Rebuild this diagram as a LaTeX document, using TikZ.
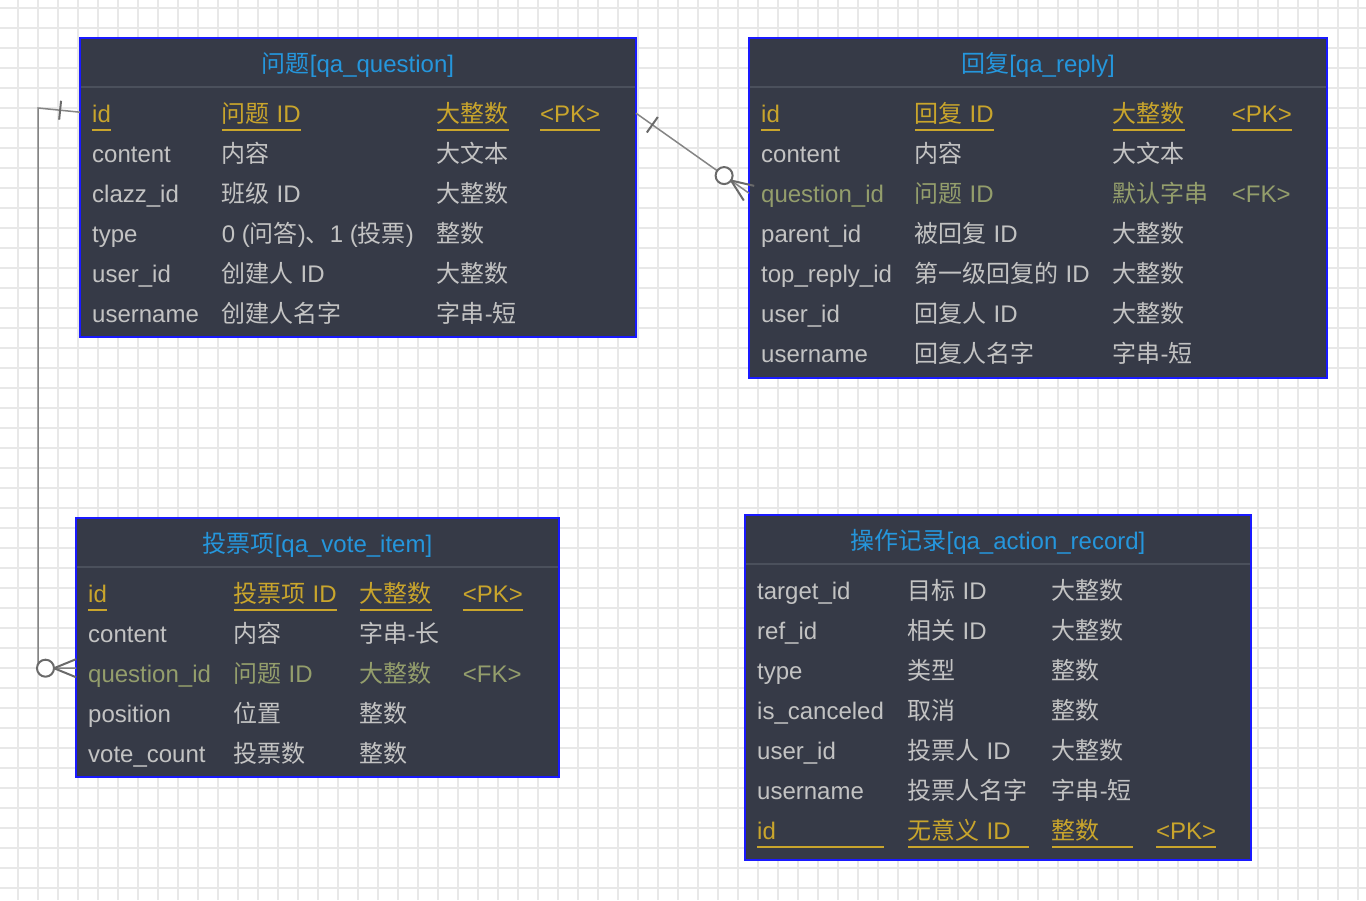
\documentclass[tikz,border=0pt]{standalone}
\usepackage{fontspec}
\setmainfont{Liberation Sans}
\newfontfamily\zh{Noto Sans CJK SC}
\usepackage{xcolor}
\usepackage{tikz}
\usetikzlibrary{calc}
\usetikzlibrary{matrix}
\usetikzlibrary{positioning}
\definecolor{gridgray}{HTML}{E8E8E8}
\definecolor{tblfill}{HTML}{363A47}
\definecolor{tbledge}{HTML}{1A1AFF}
\definecolor{tblrule}{HTML}{4B505C}
\definecolor{headblue}{HTML}{2596DC}
\definecolor{plaingray}{HTML}{C3C3C3}
\definecolor{pkgold}{HTML}{C9A52C}
\definecolor{fkgreen}{HTML}{949E6C}
\definecolor{linkgray}{HTML}{858585}
\definecolor{markgray}{HTML}{6A6A6A}
\makeatletter
\newcommand\ul[2][]{\setbox\z@\hbox{#2}%
  \ifx\relax#1\relax\dimen@\wd\z@\else\dimen@#1\fi%
  \rlap{\rule[-8.5pt]{\dimen@}{2pt}}\box\z@}
\makeatother
\tikzstyle{grid line}=[gridgray,line width=2pt]
\tikzstyle{tbl}=[draw=tbledge,fill=tblfill,line width=2pt,anchor=north west,inner sep=0pt,outer sep=0pt]
\tikzstyle{tbltitle}=[text=headblue,anchor=base]
\tikzstyle{tblsep}=[tblrule,line width=2pt,shorten <=1pt,shorten >=1pt]
\tikzstyle{fields}=[matrix of nodes,anchor=north west,inner sep=0pt,column sep=23pt,row sep=0pt,
  nodes={anchor=base west,inner sep=0pt,text height=28pt,text depth=12pt,text=plaingray}]
\tikzstyle{pk}=[nodes={text=pkgold}]
\tikzstyle{fk}=[nodes={text=fkgreen}]
\tikzstyle{link}=[linkgray,line width=1.5pt]
\tikzstyle{linkmark}=[markgray,line width=2pt]
\newcommand\onebar[2]{\draw[linkmark] ($($(#1)!20pt!(#2)$)!9.5pt!90:(#2)$) -- ($($(#1)!20pt!(#2)$)!9.5pt!-90:(#2)$);}
\newcommand\zeromany[2]{%
  \draw[linkmark] ($(#1)!9pt!90:(#2)$) -- ($(#1)!22pt!(#2)$) -- ($(#1)!9pt!-90:(#2)$);
  \draw[linkmark,fill=white] ($(#1)!30.5pt!(#2)$) circle[radius=8.5pt];}
\begin{document}
\begin{tikzpicture}[x=1pt,y=-1pt,every node/.style={font=\fontsize{24pt}{28pt}\selectfont}]
  \fill[white] (0,0) rectangle (1366,900);
  \useasboundingbox (0,0) rectangle (1366,900);
  \foreach \i in {0,...,67} \draw[grid line] (17.7+20*\i,0) -- ++(0,900);
  \foreach \i in {0,...,44} \draw[grid line] (0,7.7+20*\i) -- ++(1366,0);

  \node[tbl,minimum width=556pt,minimum height=299pt] (q) at (80,38) {};
  \node[tbltitle] (q-title) at ([yshift=-34pt]q.north) {{\zh 问题}[qa\_question]};
  \draw[tblsep] ([yshift=-49pt]q.north west) -- ([yshift=-49pt]q.north east);
  \matrix[fields,ampersand replacement=\&,row 1/.style=pk] (qm) at ([xshift=12pt,yshift=-56pt]q.north west) {
    \ul{id} \& \ul{{\zh 问题} ID} \& \ul{\zh 大整数} \& \ul{<PK>} \\
    content \& {\zh 内容} \& {\zh 大文本} \& \\
    clazz\_id \& {\zh 班级} ID \& {\zh 大整数} \& \\
    type \& 0 ({\zh 问答}){\zh 、}1 ({\zh 投票}) \& {\zh 整数} \& \\
    user\_id \& {\zh 创建人} ID \& {\zh 大整数} \& \\
    username \& {\zh 创建人名字} \& {\zh 字串}-{\zh 短} \& \\
  };

  \node[tbl,minimum width=578pt,minimum height=340pt] (r) at (749,38) {};
  \node[tbltitle] (r-title) at ([yshift=-34pt]r.north) {{\zh 回复}[qa\_reply]};
  \draw[tblsep] ([yshift=-49pt]r.north west) -- ([yshift=-49pt]r.north east);
  \matrix[fields,ampersand replacement=\&,row 1/.style=pk,row 3/.style=fk] (rm) at ([xshift=12pt,yshift=-56pt]r.north west) {
    \ul{id} \& \ul{{\zh 回复} ID} \& \ul{\zh 大整数} \& \ul{<PK>} \\
    content \& {\zh 内容} \& {\zh 大文本} \& \\
    question\_id \& {\zh 问题} ID \& {\zh 默认字串} \& <FK> \\
    parent\_id \& {\zh 被回复} ID \& {\zh 大整数} \& \\
    top\_reply\_id \& {\zh 第一级回复的} ID \& {\zh 大整数} \& \\
    user\_id \& {\zh 回复人} ID \& {\zh 大整数} \& \\
    username \& {\zh 回复人名字} \& {\zh 字串}-{\zh 短} \& \\
  };

  \node[tbl,minimum width=483pt,minimum height=259pt] (v) at (76,518) {};
  \node[tbltitle] (v-title) at ([yshift=-34pt]v.north) {{\zh 投票项}[qa\_vote\_item]};
  \draw[tblsep] ([yshift=-49pt]v.north west) -- ([yshift=-49pt]v.north east);
  \matrix[fields,ampersand replacement=\&,row 1/.style=pk,row 3/.style=fk] (vm) at ([xshift=12pt,yshift=-56pt]v.north west) {
    \ul{id} \& \ul{{\zh 投票项} ID} \& \ul{\zh 大整数} \& \ul{<PK>} \\
    content \& {\zh 内容} \& {\zh 字串}-{\zh 长} \& \\
    question\_id \& {\zh 问题} ID \& {\zh 大整数} \& <FK> \\
    position \& {\zh 位置} \& {\zh 整数} \& \\
    vote\_count \& {\zh 投票数} \& {\zh 整数} \& \\
  };

  \node[tbl,minimum width=506pt,minimum height=345pt] (a) at (745,515) {};
  \node[tbltitle] (a-title) at ([yshift=-34pt]a.north) {{\zh 操作记录}[qa\_action\_record]};
  \draw[tblsep] ([yshift=-49pt]a.north west) -- ([yshift=-49pt]a.north east);
  \matrix[fields,column sep=24pt,ampersand replacement=\&,row 7/.style=pk] (am) at ([xshift=12pt,yshift=-56pt]a.north west) {
    target\_id \& {\zh 目标} ID \& {\zh 大整数} \& \\
    ref\_id \& {\zh 相关} ID \& {\zh 大整数} \& \\
    type \& {\zh 类型} \& {\zh 整数} \& \\
    is\_canceled \& {\zh 取消} \& {\zh 整数} \& \\
    user\_id \& {\zh 投票人} ID \& {\zh 大整数} \& \\
    username \& {\zh 投票人名字} \& {\zh 字串}-{\zh 短} \& \\
    \ul[127pt]{id} \& \ul[121pt]{{\zh 无意义} ID} \& \ul[81pt]{\zh 整数} \& \ul{<PK>} \\
  };

  \coordinate (q-r) at ([yshift=1pt]q.east |- qm-1-1.center);
  \coordinate (r-q) at ([yshift=1pt]r.west |- rm-3-1.center);
  \draw[link] (q-r) -- (r-q);
  \onebar{q-r}{r-q}
  \zeromany{r-q}{q-r}

  \coordinate (q-v) at ([yshift=2pt]q.west |- qm-1-1.center);
  \coordinate (q-v-bend) at (38,108);
  \coordinate (v-q) at ([yshift=6pt]v.west |- vm-3-1.center);
  \draw[link] (q-v) -- (q-v-bend) |- (v-q);
  \onebar{q-v}{q-v-bend}
  \zeromany{v-q}{q-v-bend |- v-q}
\end{tikzpicture}
\end{document}
